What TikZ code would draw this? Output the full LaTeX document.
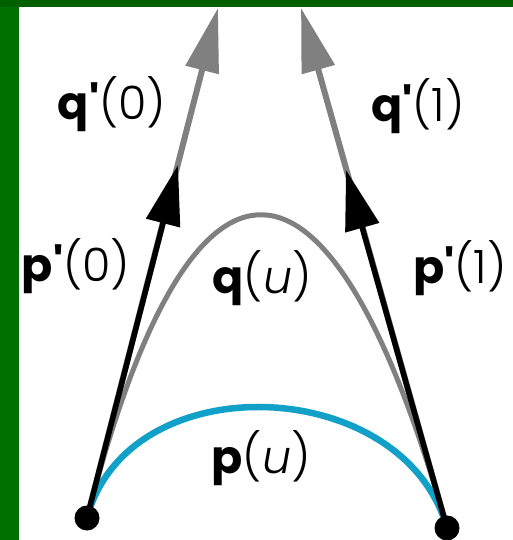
\documentclass[tikz,border=0pt]{standalone}
\usepackage{fontspec}
\setmainfont{Fira Sans}
\IfFontExistsTF{Poppins Light}{\newfontfamily\lightf{Poppins Light}}{\newcommand\lightf{\normalfont}}
\IfFontExistsTF{Poppins Light Italic}{\newfontfamily\lightit{Poppins Light Italic}}{\newcommand\lightit{\itshape}}
\IfFontExistsTF{Poppins Light}{\IfFontExistsTF{Poppins Bold}{\newfontfamily\boldf{Poppins Bold}}{\newcommand\boldf{\bfseries}}}{\newcommand\boldf{\bfseries}}
\usetikzlibrary{arrows.meta}
\definecolor{topgreen}{RGB}{0,96,0}
\definecolor{leftgreen}{RGB}{0,112,0}
\definecolor{curveblue}{RGB}{16,160,200}
\definecolor{midgray}{RGB}{128,128,128}
\newcommand\vlbl[2]{{\boldf #1}{\lightf #2}}
\tikzset{
  lbl/.style={font=\fontsize{46}{52}\selectfont, inner sep=0pt, anchor=center},
  grayarrow/.style={draw=midgray, line width=6pt, -{Triangle[length=64pt,width=33pt]}},
  blackarrow/.style={draw=black, line width=5.5pt, -{Triangle[length=60pt,width=34pt]}},
  dot/.style={circle, fill=black, minimum size=25pt, inner sep=0pt},
}
\begin{document}
\begin{tikzpicture}[x=1pt,y=-1pt]
\useasboundingbox (0,0) rectangle (513,540);
\fill[white] (0,0) rectangle (513,540);
\fill[leftgreen] (0,0) rectangle (19,540);
\fill[topgreen] (0,0) rectangle (513,7);

% end points
\coordinate (P0) at (87,518);
\coordinate (P1) at (447,528);
% arrow tips
\coordinate (G0) at (218,8);
\coordinate (G1) at (301,8);
\coordinate (B0) at (178,165);
\coordinate (B1) at (346,170);

% gray tangents of q
\draw[grayarrow] (P0) -- (G0);
\draw[grayarrow] (P1) -- (G1);
% curves
\draw[midgray, line width=5pt] (P0) .. controls (191,112) and (330,112) .. (P1);
\draw[curveblue, line width=6.5pt] (P0) .. controls (128,363) and (404,374) .. (P1);
% black tangents of p
\draw[blackarrow] (P0) -- (B0);
\draw[blackarrow] (P1) -- (B1);
% dots
\node[dot] (d0) at (P0) {};
\node[dot] (d1) at (P1) {};

% labels
\node[lbl] (lq0) at (112,104) {\vlbl{q\textquotesingle}{(0)}};
\node[lbl] (lq1) at (418,106) {\vlbl{q\textquotesingle}{(1)}};
\node[lbl] (lp0) at (76,266) {\vlbl{p\textquotesingle}{(0)}};
\node[lbl] (lp1) at (460,268) {\vlbl{p\textquotesingle}{(1)}};
\node[lbl] (lqu) at (262,278) {{\boldf q}{\lightf (}{\lightit u}{\lightf )}};
\node[lbl] (lpu) at (261,458) {{\boldf p}{\lightf (}{\lightit u}{\lightf )}};
\end{tikzpicture}
\end{document}
